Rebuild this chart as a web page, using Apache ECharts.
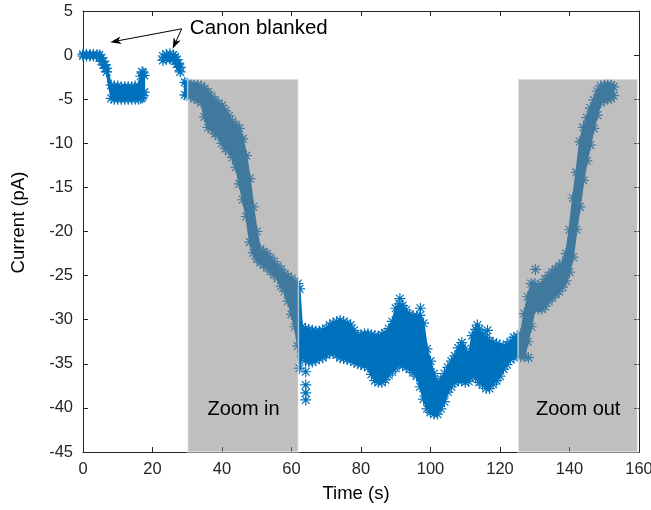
<!DOCTYPE html>
<html><head><meta charset="utf-8">
<script src="https://cdn.jsdelivr.net/npm/echarts@6/dist/echarts.min.js"></script>
<style>html,body{margin:0;padding:0;background:#fff}#c{width:651px;height:510px}</style>
</head><body><div id="c"></div>
<script>
// ---- data ----
// segment before first blanking: time (s), upper and lower envelope of current (pA)
const timeA = [0, 1, 2, 3, 4, 4.7, 5.3, 5.9, 6.4, 6.8, 8.1, 9, 10, 11, 12, 13, 14, 15, 16, 16.6, 17.0, 17.3, 17.6];
const hiA   = [0.1, 0.1, 0.05, 0.1, 0.05, 0.0, -0.3, -0.7, -1.1, -1.5, -3.4, -3.5, -3.5, -3.6, -3.6, -3.6, -3.6, -3.5, -3.5, -2.4, -1.9, -2.0, -2.3];
const loA   = [-0.1, -0.1, -0.1, -0.1, -0.1, -0.3, -0.7, -1.1, -1.5, -1.9, -4.9, -5.0, -5.0, -5.0, -5.0, -5.0, -5.0, -5.0, -5.0, -4.9, -4.8, -4.6, -4.2];
// segment between the two blankings
const timeB = [23, 24, 25, 26, 26.5, 27, 27.5, 28];
const hiB   = [-0.1, 0.1, 0.15, 0.0, -0.2, -0.5, -0.9, -1.4];
const loB   = [-0.6, -0.5, -0.45, -0.5, -0.7, -1.0, -1.4, -1.9];
// main segment
const timeC = [29.3,30,31,32,33,34,35,36,37,38,39,40,41,42,43,44,45,46,47,48,49,50,51,52,53,54,55,56,57,58,59,60,61,61.8,62.3,
  63,64,65,66,67,68,69,70,71,72,73,74,75,76,77,78,79,80,81,82,83,84,85,86,87,88,89,90,91,92,93,94,95,96,97,98,99,100,
  101,102,103,104,105,106,107,108,109,110,111,112,113,114,115,116,117,118,119,120,121,122,123,124,125,126,127,128,129,130,
  131,132,133,134,135,136,137,138,139,140,141,142,143,144,145,146,147,148,149,150,151,152,152.7];
const hiC = [-3.1,-3.2,-3.3,-3.35,-3.4,-3.5,-3.8,-4.2,-4.7,-5.1,-5.5,-5.7,-6.3,-6.9,-7.5,-7.9,-8.3,-9.5,-11.4,-14.0,-17.2,-20.0,-22.0,-22.3,-22.5,-23.0,-23.4,-23.9,-24.3,-24.8,-25.1,-25.3,-25.7,-25.9,-26.5,
  -30.8,-31.0,-31.1,-31.2,-31.3,-31.3,-31.2,-31.0,-30.6,-30.4,-30.2,-30.1,-30.2,-30.4,-30.6,-31.2,-31.8,-31.7,-31.6,-31.6,-31.7,-31.8,-32.0,-31.7,-31.5,-31.0,-30.2,-28.7,-28.2,-28.4,-28.9,-29.4,-29.6,-29.6,-29.5,-30.4,-33.3,-34.7,
  -36.1,-37.2,-36.7,-36.1,-35.4,-34.7,-34.1,-33.2,-32.6,-33.3,-34.1,-31.8,-31.1,-31.1,-31.6,-32.0,-32.4,-32.6,-32.7,-32.9,-33.3,-32.8,-32.5,-32.0,-31.9,-31.6,-29.3,-27.4,-25.9,-25.9,
  -26.4,-26.0,-25.4,-25.0,-24.6,-24.3,-23.9,-23.6,-22.5,-19.8,-16.2,-13.3,-9.8,-8.2,-7.1,-6.0,-5.1,-4.1,-3.5,-3.4,-3.3,-3.4,-3.6];
const loC = [-4.5,-4.6,-4.7,-4.9,-5.1,-5.4,-7.0,-8.2,-8.4,-8.9,-9.2,-10.0,-10.6,-10.9,-11.6,-12.7,-14.6,-16.4,-18.3,-21.2,-22.4,-23.1,-23.5,-23.8,-24.1,-24.5,-24.9,-25.3,-26.2,-26.8,-27.9,-29.4,-30.8,-33.0,-35.5,
  -34.2,-34.6,-34.8,-34.8,-34.6,-34.4,-34.3,-34.0,-33.8,-33.8,-34.0,-34.3,-34.4,-34.5,-34.6,-34.8,-35.0,-35.1,-35.2,-35.4,-36.2,-36.9,-37.1,-37.1,-36.8,-36.3,-35.9,-35.5,-35.1,-35.1,-35.4,-35.6,-36.0,-36.4,-37.6,-39.0,-40.1,-40.5,
  -40.7,-40.7,-40.1,-39.3,-38.2,-37.6,-37.1,-36.9,-36.9,-37.1,-37.0,-36.4,-36.6,-37.1,-37.4,-37.8,-37.8,-37.3,-36.9,-36.4,-35.6,-35.1,-34.5,-34.3,-33.9,-34.2,-34.2,-32.5,-30.8,-28.7,
  -28.8,-28.8,-28.5,-27.9,-27.5,-27.1,-26.8,-26.3,-25.6,-24.6,-22.9,-19.8,-17.2,-14.2,-12.0,-10.2,-8.3,-6.8,-5.4,-5.1,-5.0,-4.9,-4.6];
// isolated samples
const extraT = [64.1, 64.1, 64.1, 64.1, 91.2, 97.1, 130.2, 128.2, 113.5, 116.4];
const extraV = [-35.9, -37.4, -38.3, -39.1, -27.6, -28.7, -24.3, -34.3, -30.6, -31.2];
// shaded windows
const zoomStart = [30.1, 125.2];
const zoomEnd = [62.0, 159.6];
const zoomTop = -2.7;
const zoomLabels = ['Zoom in', 'Zoom out'];
const zoomLabelT = [46.2, 142.5];
const zoomLabelV = -40.2;
// annotation
const noteText = 'Canon blanked';
const noteT = 30.75, noteV = 3.0;
const arrowFromT = 28.4, arrowFromV = 2.98;
const arrowToT = [7.85, 25.8];
const arrowToV = [1.46, 0.71];
// axis ticks
const xTicks = [0, 20, 40, 60, 80, 100, 120, 140, 160];
const yTicks = [-45, -40, -35, -30, -25, -20, -15, -10, -5, 0, 5];

// ---- chart ----
const BLUE = '#0072BD';
const AX = '#262626';
const FONT = '"Liberation Sans", Arial, Helvetica, sans-serif';
const STAR = 'path://M-0.55,-5H0.55V5H-0.55Z M-5,-0.55H5V0.55H-5Z M-3.15,-3.93L3.93,3.15L3.15,3.93L-3.93,-3.15Z M3.15,-3.93L3.93,-3.15L-3.15,3.93L-3.93,3.15Z';
const segments = [[timeA, hiA, loA], [timeB, hiB, loB], [timeC, hiC, loC]];
const starPts = [];
segments.forEach(([t, h, l]) => t.forEach((x, i) => { starPts.push([x, h[i]]); starPts.push([x, l[i]]); }));
extraT.forEach((x, i) => starPts.push([x, extraV[i]]));

const chart = echarts.init(document.getElementById('c'), null, {renderer: 'canvas'});
const xBase = {type: 'value', min: xTicks[0], max: xTicks[xTicks.length - 1], interval: 20,
  axisLine: {show: true, onZero: false, lineStyle: {color: AX, width: 1}},
  axisTick: {show: true, inside: true, length: 5, lineStyle: {color: AX}},
  splitLine: {show: false}};
const yBase = {type: 'value', min: yTicks[0], max: yTicks[yTicks.length - 1], interval: 5,
  axisLine: {show: true, onZero: false, lineStyle: {color: AX, width: 1}},
  axisTick: {show: true, inside: true, length: 5, lineStyle: {color: AX}},
  splitLine: {show: false}};

chart.setOption({
  animation: false,
  backgroundColor: '#fff',
  grid: {left: 83, right: 12, top: 11, bottom: 58, containLabel: false, outerBoundsMode: 'none'},
  xAxis: [
    Object.assign({}, xBase, {position: 'bottom', name: 'Time (s)', nameLocation: 'middle', nameGap: 32,
      nameTextStyle: {fontSize: 18.5, color: '#000', fontFamily: FONT, padding: [0, 10, 0, 0]},
      axisLabel: {fontSize: 16.5, color: AX, fontFamily: FONT, margin: 9}}),
    Object.assign({}, xBase, {position: 'top', axisLabel: {show: false}})
  ],
  yAxis: [
    Object.assign({}, yBase, {position: 'left', name: 'Current (pA)', nameLocation: 'middle', nameGap: 55,
      nameTextStyle: {fontSize: 18.5, color: '#000', fontFamily: FONT, padding: [0, 0, 0, 18]},
      axisLabel: {fontSize: 16.5, color: AX, fontFamily: FONT, margin: 10}}),
    Object.assign({}, yBase, {position: 'right', axisLabel: {show: false}})
  ],
  series: [
    {
      type: 'custom', z: 2, silent: true,
      data: segments.map((s, i) => [s[0][0], s[1][0]]),
      renderItem: (params, api) => {
        const [t, h, l] = segments[params.dataIndex];
        const pts = [];
        for (let i = 0; i < t.length; i++) pts.push(api.coord([t[i], h[i]]));
        for (let i = t.length - 1; i >= 0; i--) pts.push(api.coord([t[i], l[i]]));
        return {type: 'polygon', shape: {points: pts}, style: {fill: BLUE, stroke: BLUE, lineWidth: 2}};
      }
    },
    {
      type: 'scatter', z: 3, silent: true, data: starPts,
      symbol: STAR, symbolSize: 11, itemStyle: {color: BLUE, opacity: 1}
    },
    {
      type: 'custom', z: 4, silent: true,
      data: zoomStart.map((s, i) => [s, zoomTop]),
      renderItem: (params, api) => {
        const i = params.dataIndex;
        const p0 = api.coord([zoomStart[i], zoomTop]);
        const p1 = api.coord([zoomEnd[i], yTicks[0]]);
        const c = api.coord([zoomLabelT[i], zoomLabelV]);
        return {type: 'group', children: [
          {type: 'rect', shape: {x: p0[0], y: p0[1], width: p1[0] - p0[0], height: p1[1] - p0[1]},
           style: {fill: 'rgba(128,128,128,0.5)', stroke: 'rgba(255,255,255,0.6)', lineWidth: 1.5}},
          {type: 'text', x: c[0], y: c[1], style: {text: zoomLabels[i], fill: '#000', fontSize: 20, fontFamily: FONT, align: 'center', verticalAlign: 'middle'}}
        ]};
      }
    },
    {
      type: 'custom', z: 5, silent: true,
      data: [[noteT, noteV]],
      renderItem: (params, api) => {
        const children = [];
        const s = api.coord([arrowFromT, arrowFromV]);
        arrowToT.forEach((tt, k) => {
          const e = api.coord([tt, arrowToV[k]]);
          let dx = e[0] - s[0], dy = e[1] - s[1];
          const len = Math.hypot(dx, dy); dx /= len; dy /= len;
          const L = 11, W = 3.8, N = 8;
          const bx = e[0] - dx * L, by = e[1] - dy * L;
          const nx = e[0] - dx * N, ny = e[1] - dy * N;
          children.push({type: 'line', shape: {x1: s[0], y1: s[1], x2: nx, y2: ny}, style: {stroke: '#000', lineWidth: 1}});
          children.push({type: 'polygon', shape: {points: [[e[0], e[1]], [bx - dy * W, by + dx * W], [nx, ny], [bx + dy * W, by - dx * W]]}, style: {fill: '#000'}});
        });
        const tp = api.coord([noteT, noteV]);
        children.push({type: 'text', x: tp[0], y: tp[1], style: {text: noteText, fill: '#000', fontSize: 20.5, fontFamily: FONT, align: 'left', verticalAlign: 'middle'}});
        return {type: 'group', children};
      }
    }
  ]
});
</script>
</body></html>
